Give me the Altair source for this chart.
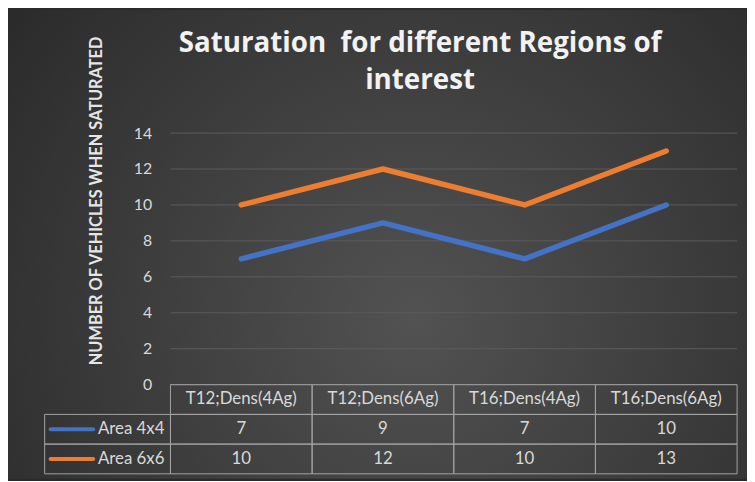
import altair as alt
import pandas as pd

# ---- data ----
categories = ["T12;Dens(4Ag)", "T12;Dens(6Ag)", "T16;Dens(4Ag)", "T16;Dens(6Ag)"]
series_names = ["Area 4x4", "Area 6x6"]
area_4x4 = [7, 9, 7, 10]
area_6x6 = [10, 12, 10, 13]
y_ticks = [0, 2, 4, 6, 8, 10, 12, 14]
series_colors = ["#4472C4", "#ED7D31"]
title_lines = ["Saturation\u00a0 for different Regions of", "interest"]
y_title = "NUMBER OF VEHICLES WHEN SATURATED"

W, H = 572, 254
ROW_H = 30
PAD = {"left": 164, "top": 124, "right": 10, "bottom": 95}
HEADER = "header"
rows = [HEADER] + series_names
TXT = "#d9d9d9"
BORDER = "#a3a3a3"
FONT = "Lato"

long_rows = []
for s, vals in zip(series_names, [area_4x4, area_6x6]):
    for c, v in zip(categories, vals):
        long_rows.append({"cat": c, "series": s, "value": v})
long_df = pd.DataFrame(long_rows)

cells = [{"cat": c, "row": HEADER, "text": c} for c in categories]
for r in long_rows:
    cells.append({"cat": r["cat"], "row": r["series"], "text": str(r["value"])})
cells_df = pd.DataFrame(cells)

labels_df = pd.DataFrame({"series": series_names, "row": series_names})
grid_df = pd.DataFrame({"t": y_ticks})
title_df = pd.DataFrame({"t": ["\n".join(title_lines)]})

xs = alt.Scale(type="band", domain=categories, paddingInner=0, paddingOuter=0)
yq = alt.Scale(domain=[0, 14], nice=False)
yt = alt.Scale(type="band", domain=rows, range=[H, H + 3 * ROW_H],
               paddingInner=0, paddingOuter=0)
cscale = alt.Scale(domain=series_names, range=series_colors)

bg = alt.Chart(pd.DataFrame({"k": [0]})).mark_rect(
    fill=alt.RadialGradient(
        gradient="radial",
        stops=[alt.GradientStop(offset=0, color="#525252"),
               alt.GradientStop(offset=1, color="#272727")],
        x1=0.55, y1=0.6, r1=0, x2=0.55, y2=0.6, r2=0.75,
    )
).encode(
    x=alt.value(-PAD["left"]), x2=alt.value(W + PAD["right"]),
    y=alt.value(-PAD["top"]), y2=alt.value(H + PAD["bottom"]),
)

grid = alt.Chart(grid_df).mark_rule(color="#5c5c5c", strokeWidth=1).encode(
    y=alt.Y("t:Q", scale=yq, axis=None),
    x=alt.value(0), x2=alt.value(W),
)

lines = alt.Chart(long_df).mark_line(strokeWidth=5.5, strokeCap="round", strokeJoin="round").encode(
    x=alt.X("cat:N", scale=xs, bandPosition=0.5, axis=None, sort=categories),
    y=alt.Y("value:Q", scale=yq, axis=alt.Axis(
        values=y_ticks, grid=False, domain=False, ticks=False, zindex=2,
        labelColor=TXT, labelFont=FONT, labelFontSize=16, labelPadding=19,
        title=y_title,
        titleFont=FONT, titleFontSize=16.5, titleFontWeight="bold", titleColor="#e6e6e6",
        titleX=-75, titleY=68, titleAngle=270, titleAlign="center", titleBaseline="middle",
    )),
    color=alt.Color("series:N", scale=cscale, legend=None),
    detail="series:N",
)

cell_rects = alt.Chart(cells_df).mark_rect(fill="transparent", stroke=BORDER, strokeWidth=1).encode(
    x=alt.X("cat:N", scale=xs, axis=None),
    y=alt.Y("row:N", scale=yt, axis=None),
)

cell_text = alt.Chart(cells_df).mark_text(font=FONT, fontSize=17, color=TXT, baseline="middle").encode(
    x=alt.X("cat:N", scale=xs, bandPosition=0.5, axis=None),
    y=alt.Y("row:N", scale=yt, bandPosition=0.5, axis=None),
    text="text:N",
)

label_rects = alt.Chart(labels_df).mark_rect(fill="transparent", stroke=BORDER, strokeWidth=1).encode(
    x=alt.value(-127), x2=alt.value(0),
    y=alt.Y("row:N", scale=yt, axis=None),
)

label_text = alt.Chart(labels_df).mark_text(font=FONT, fontSize=17, color=TXT, align="right", baseline="middle").encode(
    x=alt.value(-6),
    y=alt.Y("row:N", scale=yt, bandPosition=0.5, axis=None),
    text="row:N",
)

swatch = alt.Chart(labels_df).mark_rule(strokeWidth=4, strokeCap="round").encode(
    x=alt.value(-121), x2=alt.value(-78),
    y=alt.Y("row:N", scale=yt, bandPosition=0.5, axis=None),
    color=alt.Color("series:N", scale=cscale, legend=None),
)

title_text = alt.Chart(title_df).mark_text(
    font="Open Sans", fontSize=28, fontWeight="bold", color="#f2f2f2",
    align="center", baseline="alphabetic", lineBreak="\n", lineHeight=38,
).encode(x=alt.value(252), y=alt.value(-82), text="t:N")

chart = alt.layer(
    bg, grid, cell_rects, label_rects, swatch, lines, cell_text, label_text,
    title_text,
).resolve_scale(y="independent").properties(
    width=W, height=H,
    padding=PAD,
    autosize=alt.AutoSizeParams(type="none"),
    background="#2b2b2b",
).configure_view(stroke=None)

chart.save("out.html", embed_options={"renderer": "svg", "actions": False})
